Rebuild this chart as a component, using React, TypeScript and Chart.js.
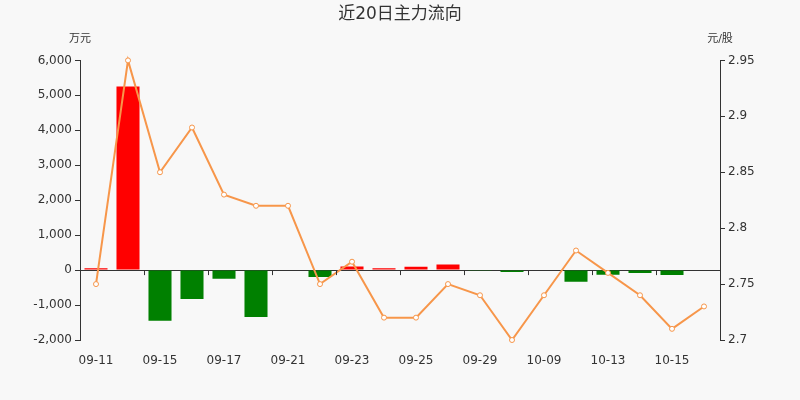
import { useEffect, useRef } from "react";
import Chart from "chart.js/auto";
import type { Plugin } from "chart.js";

const dates = [
  "09-11", "09-14", "09-15", "09-16", "09-17", "09-18", "09-21", "09-22", "09-23", "09-24",
  "09-25", "09-28", "09-29", "09-30", "10-09", "10-12", "10-13", "10-14", "10-15", "10-16",
];
// 主力净流入 (万元)
const mainFlow = [
  50, 5250, -1450, -830, -250, -1340, 0, -200, 100, 55,
  95, 160, -20, -55, -15, -330, -130, -85, -140, 0,
];
// 收盘价 (元/股)
const closePrice = [
  2.75, 2.95, 2.85, 2.89, 2.83, 2.82, 2.82, 2.75, 2.77, 2.72,
  2.72, 2.75, 2.74, 2.7, 2.74, 2.78, 2.76, 2.74, 2.71, 2.73,
];

const FONT = '"DejaVu Sans", "Noto Sans CJK SC", sans-serif';
const TEXT = "#333";
const BG = "#f8f8f8";

// background, unit names and the x axis ticks that sit on the zero line
const extras: Plugin = {
  id: "extras",
  beforeDraw(chart) {
    const { ctx, width, height } = chart;
    ctx.save();
    ctx.fillStyle = BG;
    ctx.fillRect(0, 0, width, height);
    ctx.restore();
  },
  afterDraw(chart) {
    const { ctx, chartArea, scales } = chart;
    const x = scales.x;
    const y = scales.y;
    const zero = y.getPixelForValue(0);
    ctx.save();
    ctx.strokeStyle = TEXT;
    ctx.lineWidth = 1;
    ctx.beginPath();
    for (let i = 2; i <= dates.length; i += 2) {
      const px = Math.round(x.getPixelForValue(i - 0.5)) + 0.5;
      ctx.moveTo(px, zero);
      ctx.lineTo(px, zero + 5);
    }
    ctx.stroke();
    ctx.fillStyle = TEXT;
    ctx.font = `11px ${FONT}`;
    ctx.textAlign = "center";
    ctx.textBaseline = "middle";
    ctx.fillText("万元", chartArea.left, 39);
    ctx.fillText("元/股", chartArea.right, 39);
    ctx.restore();
  },
};

export default function App() {
  const canvasRef = useRef<HTMLCanvasElement>(null);

  useEffect(() => {
    document.body.style.margin = "0";
    document.body.style.background = BG;
    if (!canvasRef.current) return;

    const chart = new Chart(canvasRef.current, {
      type: "bar",
      data: {
        labels: dates,
        datasets: [
          {
            type: "line",
            label: "收盘价",
            data: closePrice,
            yAxisID: "y1",
            borderColor: "#f7964a",
            borderWidth: 2,
            pointRadius: 2.5,
            pointBorderWidth: 1,
            pointBackgroundColor: "#fff",
            pointBorderColor: "#f7964a",
            tension: 0,
            clip: false,
            order: 0,
          },
          {
            type: "bar",
            label: "主力净流入",
            data: mainFlow,
            yAxisID: "y",
            backgroundColor: mainFlow.map((v) => (v >= 0 ? "#ff0000" : "#008000")),
            borderWidth: 0,
            barPercentage: 0.72,
            categoryPercentage: 1,
            order: 1,
          },
        ],
      },
      options: {
        animation: false,
        responsive: true,
        maintainAspectRatio: false,
        layout: { padding: 0 },
        plugins: {
          legend: { display: false },
          tooltip: { enabled: false },
          title: {
            display: true,
            text: "近20日主力流向",
            color: TEXT,
            font: { family: FONT, size: 17, weight: "normal", lineHeight: 1.2 },
            padding: { top: 4, bottom: 36 },
          },
        },
        scales: {
          x: {
            grid: { display: false },
            border: { display: false },
            ticks: {
              autoSkip: false,
              maxRotation: 0,
              padding: 6,
              color: TEXT,
              font: { family: FONT, size: 12 },
              callback: (_v, i) => (i % 2 === 0 ? dates[i] : ""),
            },
            afterFit: (s) => {
              s.height = 60;
            },
          },
          y: {
            position: "left",
            min: -2000,
            max: 6000,
            ticks: {
              stepSize: 1000,
              color: TEXT,
              padding: 3,
              font: { family: FONT, size: 12 },
              callback: (v) => Number(v).toLocaleString("en-US"),
            },
            grid: {
              color: (c) => (c.tick && c.tick.value === 0 ? TEXT : "rgba(0,0,0,0)"),
              tickColor: TEXT,
              tickLength: 5,
            },
            border: { color: TEXT },
            afterFit: (s) => {
              s.width = 80;
            },
          },
          y1: {
            position: "right",
            min: 2.7,
            max: 2.95,
            ticks: {
              stepSize: 0.05,
              color: TEXT,
              padding: 3,
              font: { family: FONT, size: 12 },
              callback: (v) => String(Number(Number(v).toFixed(2))),
            },
            grid: { drawOnChartArea: false, tickColor: TEXT, tickLength: 5 },
            border: { color: TEXT },
            afterFit: (s) => {
              s.width = 80;
            },
          },
        },
      },
      plugins: [extras],
    });

    return () => chart.destroy();
  }, []);

  return (
    <div style={{ width: 800, height: 400, position: "relative" }}>
      <canvas ref={canvasRef} />
    </div>
  );
}
